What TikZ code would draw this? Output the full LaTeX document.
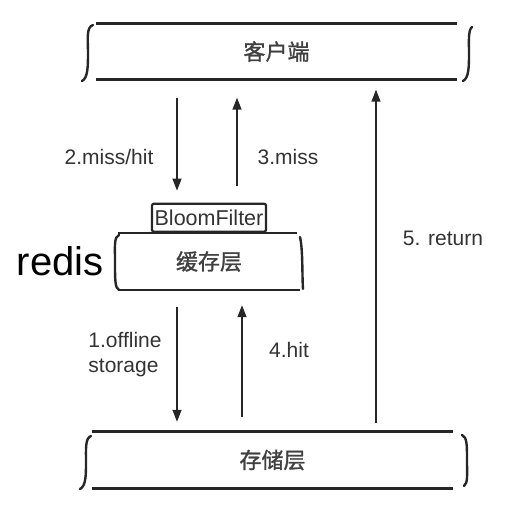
\documentclass[tikz,border=0pt]{standalone}
\usepackage{fontspec}
\setmainfont{Liberation Sans}
\newfontfamily\cjk[FakeBold=1.2]{Noto Sans CJK SC}
\usetikzlibrary{arrows.meta,positioning}

\begin{document}
\begin{tikzpicture}[x=1pt,y=-1pt,
    layer/.style={minimum width=361pt,minimum height=56pt,inner sep=0pt,
      font=\cjk\fontsize{22}{24}\selectfont,text=black!75},
    edge/.style={line width=3pt,black!85},
    curl/.style={line width=2.4pt,line cap=round,black!85},
    flow/.style={-{Triangle[length=12pt,width=9pt]},line width=1.4pt,black!85},
    lbl/.style={font=\fontsize{21}{25}\selectfont,text=black!80}]
  \useasboundingbox (0,0) rectangle (508,505);

  \node[layer] (client) at (276.5,51.5) {客户端};
  \node[layer] (storage) at (272.5,460) {存储层};
  \node[layer,minimum width=182pt,minimum height=57pt] (cache) at (209,261.5) {缓存层};
  \node[draw,line width=2.2pt,black!85,text=black!80,rounded corners=2pt,
    minimum width=114pt,minimum height=28pt,inner sep=0pt,
    font=\fontsize{21.5}{22}\selectfont,above=0pt of cache] (bloom) {BloomFilter};
  \node[font=\fontsize{40}{40}\selectfont,inner sep=0pt,left=14pt of cache] (redis) {redis};

  % layer edges
  \draw[edge] (client.north west) -- (client.north east);
  \draw[edge] (client.south west) -- (client.south east);
  \draw[edge] (storage.north west) -- (storage.north east);
  \draw[edge] (storage.south west) -- (storage.south east);
  \draw[edge,line width=2.4pt] (cache.north west) -- ([xshift=-3pt]cache.north east);
  \draw[edge,line width=2.4pt] (cache.south west) -- (cache.south east);

  % curly sides
  \draw[curl] (93,25) .. controls (86,27) and (88,40) .. (88,52) .. controls (88,66) and (88,78) .. (82,81);
  \draw[curl] (472,27) .. controls (468,30) and (469,42) .. (469,53) .. controls (469,66) and (469,78) .. (463,81);
  \draw[curl] (91,436) .. controls (85,438) and (86,450) .. (86,462) .. controls (86,475) and (86,486) .. (80,489);
  \draw[curl] (462,435) .. controls (467,437) and (467,445) .. (467,460) .. controls (467,475) and (468,483) .. (464,486);
  \draw[curl] (119,235) .. controls (114,237) and (115,245) .. (115,262) .. controls (115,280) and (115,288) .. (119,290);
  \draw[curl] (300,237) .. controls (303,250) and (302,275) .. (303,289);

  \coordinate (colA) at (177,0);
  \coordinate (colB) at (237,0);
  \coordinate (colC) at (242,0);
  \coordinate (colD) at (376,0);

  \draw[flow,shorten <=18pt,shorten >=12pt] (client.south -| colA) -- (bloom.north -| colA);
  \draw[flow,shorten <=17pt,shorten >=18pt] (bloom.north -| colB) -- (client.south -| colB);
  \draw[flow,shorten <=17pt,shorten >=10pt] (cache.south -| colA) -- (storage.north -| colA);
  \draw[flow,shorten <=15pt,shorten >=15pt] (storage.north -| colC) -- (cache.south -| colC);
  \draw[flow,shorten <=9pt,shorten >=10pt] (storage.north -| colD) -- (client.south -| colD);

  \node[lbl] (l2) at (109,157) {2.miss/hit};
  \node[lbl] (l3) at (288,157) {3.miss};
  \node[lbl,align=left] (l1) at (125,355) {1.offline\\storage};
  \node[lbl] (l4) at (289,350) {4.hit};
  \node[lbl] (l5) at (443,238) {5. return};
\end{tikzpicture}
\end{document}
